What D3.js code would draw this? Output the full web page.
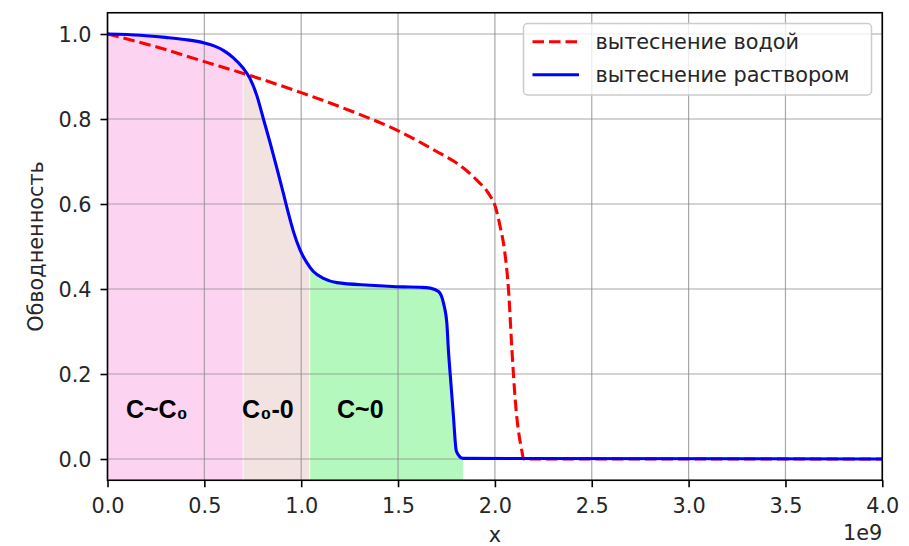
<!DOCTYPE html>
<html>
<head>
<meta charset="utf-8">
<script src="https://cdn.jsdelivr.net/npm/d3@7"></script>
<style>
  body { margin: 0; background: #fff; }
  svg { display: block; }
  text { font-family: "DejaVu Sans", sans-serif; fill: #262626; }
</style>
</head>
<body>
<div id="chart"></div>
<script>
// x values are in units of 1e9 (shown as the "1e9" offset under the axis)
var waterX = [0, 0.25, 0.5, 0.71, 1.0, 1.25, 1.511, 1.717, 1.804, 1.907, 1.967, 2.002, 2.027, 2.05, 2.07, 2.088, 2.105, 2.14, 2.148, 4.0];
var waterY = [1.0, 0.97, 0.935, 0.906, 0.862, 0.82, 0.770, 0.719, 0.696, 0.656, 0.625, 0.594, 0.547, 0.49, 0.40, 0.256, 0.139, 0.017, 0.0, 0.0];

var solX = [0, 0.1, 0.2, 0.3, 0.4, 0.5, 0.55, 0.6, 0.65, 0.7, 0.736, 0.771, 0.805, 0.839, 0.874, 0.908, 0.934, 0.96, 0.994, 1.029, 1.063, 1.115, 1.184, 1.356, 1.528, 1.614, 1.666, 1.709, 1.735, 1.752, 1.76, 1.773, 1.786, 1.80, 1.812, 1.835, 4.0];
var solY = [1.0, 0.999, 0.996, 0.992, 0.987, 0.979, 0.972, 0.961, 0.944, 0.92, 0.895, 0.855, 0.800, 0.745, 0.685, 0.625, 0.578, 0.535, 0.492, 0.462, 0.441, 0.425, 0.415, 0.409, 0.405, 0.404, 0.402, 0.394, 0.366, 0.319, 0.256, 0.178, 0.10, 0.021, 0.009, 0.0015, 0.0];

// shaded zones under the solution curve
var zoneNames = ["C~C\u2080", "C\u2080-0", "C~0"];
var zoneStart = [0, 0.698, 1.042];
var zoneEnd = [0.698, 1.042, 1.835];
var zoneColors = ["#fcd4f2", "#f2e3e1", "#b4f8be"];
var zoneLabelX = [0.095, 0.695, 1.185];
var zoneLabelY = [0.097, 0.097, 0.097];

var xTicks = [0, 0.5, 1.0, 1.5, 2.0, 2.5, 3.0, 3.5, 4.0];
var yTicks = [0, 0.2, 0.4, 0.6, 0.8, 1.0];

var seriesNames = ["вытеснение водой", "вытеснение раствором"];

var width = 909, height = 546, fs = 20.8;

var svg = d3.select("#chart").append("svg").attr("width", width).attr("height", height);

var x = d3.scaleLinear().domain([0, 4]).range([107.5, 882.3]);
var y = d3.scaleLinear().domain([-0.05, 1.05]).range([480.25, 12.75]);

var water = waterX.map(function(d, i) { return [d, waterY[i]]; });
var sol = solX.map(function(d, i) { return [d, solY[i]]; });

// clip paths for each zone
var defs = svg.append("defs");
zoneStart.forEach(function(s, i) {
  defs.append("clipPath").attr("id", "zone" + i)
    .append("rect")
      .attr("x", x(s) + (i > 0 ? 0.8 : 0))
      .attr("y", y.range()[1])
      .attr("width", x(zoneEnd[i]) - x(s) - (i > 0 ? 0.8 : 0))
      .attr("height", y.range()[0] - y.range()[1]);
});

var area = d3.area()
  .x(function(d) { return x(d[0]); })
  .y0(y(-0.05))
  .y1(function(d) { return y(d[1]); })
  .curve(d3.curveMonotoneX);

svg.append("g").selectAll("path")
  .data(zoneColors)
  .enter().append("path")
    .attr("d", area(sol))
    .attr("fill", function(d) { return d; })
    .attr("clip-path", function(d, i) { return "url(#zone" + i + ")"; });

// grid
var grid = svg.append("g").attr("stroke", "#8c8c8c").attr("stroke-opacity", 0.75).attr("stroke-width", 1.2);
grid.selectAll("line.gx").data(xTicks).enter().append("line")
  .attr("x1", function(d) { return x(d); }).attr("x2", function(d) { return x(d); })
  .attr("y1", y.range()[0]).attr("y2", y.range()[1]);
grid.selectAll("line.gy").data(yTicks).enter().append("line")
  .attr("y1", function(d) { return y(d); }).attr("y2", function(d) { return y(d); })
  .attr("x1", x.range()[0]).attr("x2", x.range()[1]);

// zone labels
svg.append("g").selectAll("text")
  .data(zoneNames)
  .enter().append("text")
    .attr("x", function(d, i) { return x(zoneLabelX[i]); })
    .attr("y", function(d, i) { return y(zoneLabelY[i]); })
    .style("font-family", "'Liberation Sans Narrow', 'Liberation Sans', Arial, sans-serif")
    .style("font-weight", "bold")
    .style("font-size", "25px")
    .style("fill", "#000")
    .text(function(d) { return d; });

var line = d3.line()
  .x(function(d) { return x(d[0]); })
  .y(function(d) { return y(d[1]); })
  .curve(d3.curveMonotoneX);

svg.append("path").attr("d", line(water))
  .attr("fill", "none").attr("stroke", "#ff0000").attr("stroke-width", 3.1)
  .attr("stroke-dasharray", "11.5,5");

svg.append("path").attr("d", line(sol))
  .attr("fill", "none").attr("stroke", "#0000ff").attr("stroke-width", 3.1)
  .attr("stroke-linejoin", "round");

// frame
svg.append("rect")
  .attr("x", x.range()[0]).attr("y", y.range()[1])
  .attr("width", x.range()[1] - x.range()[0])
  .attr("height", y.range()[0] - y.range()[1])
  .attr("fill", "none").attr("stroke", "#000").attr("stroke-width", 1.6);

// axes
var xAxis = svg.append("g").attr("transform", "translate(0," + y.range()[0] + ")")
  .call(d3.axisBottom(x).tickValues(xTicks).tickFormat(d3.format(".1f")).tickSize(7).tickSizeOuter(0).tickPadding(11));
var yAxis = svg.append("g").attr("transform", "translate(" + x.range()[0] + ",0)")
  .call(d3.axisLeft(y).tickValues(yTicks).tickFormat(d3.format(".1f")).tickSize(7).tickSizeOuter(0).tickPadding(9));

[xAxis, yAxis].forEach(function(a) {
  a.select(".domain").remove();
  a.selectAll(".tick line").attr("stroke", "#000").attr("stroke-width", 1.6);
  a.selectAll(".tick text").style("font-family", "'DejaVu Sans', sans-serif")
    .style("font-size", fs + "px").attr("fill", "#262626");
});
yAxis.selectAll(".tick text").attr("dy", "0.38em");

svg.append("text").attr("x", x.range()[1]).attr("y", 540)
  .attr("text-anchor", "end").style("font-size", fs + "px").text("1e9");

svg.append("text").attr("x", (x.range()[0] + x.range()[1]) / 2).attr("y", 542)
  .attr("text-anchor", "middle").style("font-size", fs + "px").text("x");

svg.append("text")
  .attr("transform", "translate(43," + ((y.range()[0] + y.range()[1]) / 2) + ") rotate(-90)")
  .attr("text-anchor", "middle").style("font-size", fs + "px").text("Обводненность");

// legend
var lg = svg.append("g");
lg.append("rect").attr("x", 523.5).attr("y", 23.5).attr("width", 348).attr("height", 71.5)
  .attr("rx", 4).attr("fill", "#fff").attr("fill-opacity", 0.8)
  .attr("stroke", "#cccccc").attr("stroke-width", 1.5);

var legendStroke = ["#ff0000", "#0000ff"];
var legendDash = ["11.5,5", null];
seriesNames.forEach(function(name, i) {
  var ly = 41.7 + i * 33;
  lg.append("line").attr("x1", 532.5).attr("x2", 579).attr("y1", ly).attr("y2", ly)
    .attr("stroke", legendStroke[i]).attr("stroke-width", 3.1)
    .attr("stroke-dasharray", legendDash[i]);
  lg.append("text").attr("x", 595.5).attr("y", ly + 7)
    .style("font-size", fs + "px").text(name);
});
</script>
</body>
</html>
